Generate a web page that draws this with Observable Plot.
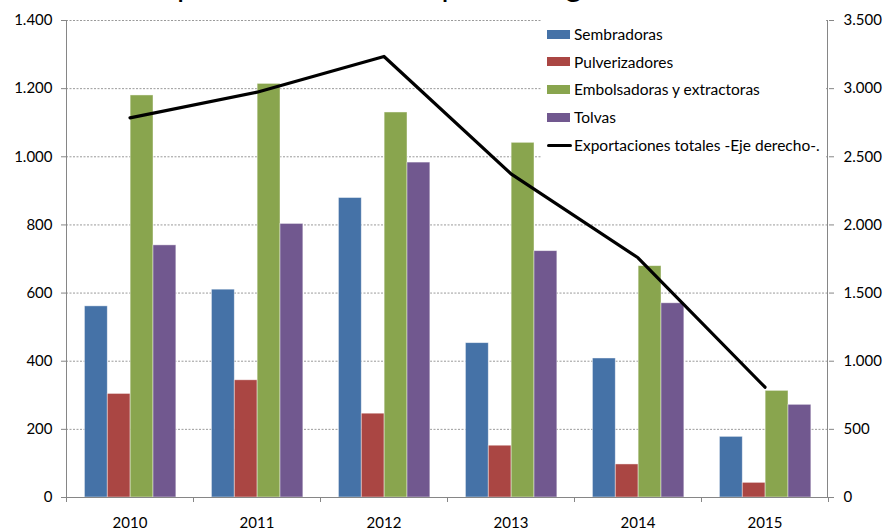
<!DOCTYPE html>
<html><head><meta charset="utf-8">
<script src="https://cdn.jsdelivr.net/npm/d3@7"></script>
<script src="https://cdn.jsdelivr.net/npm/@observablehq/plot@0.6"></script>
<style>
body{margin:0;background:#fff;}
#wrap{position:relative;width:885px;height:531px;overflow:hidden;font-family:Lato,sans-serif;}
#wrap svg{position:absolute;left:0;top:0;}
#legend{position:absolute;left:542px;top:20px;width:284px;height:139px;background:#fff;}
.item{position:absolute;left:5px;height:20px;display:flex;align-items:center;font-size:15.5px;color:#000;white-space:nowrap;}
.sw{width:23px;height:9px;margin-right:4px;}
.ln{width:25px;height:3px;background:#000;border-radius:2px;margin-right:2px;}
#title{position:absolute;left:0;top:0;pointer-events:none;}
</style></head><body><div id="wrap"></div>
<script>
const titleText = "Exportaciones de maquinaria agrícola";
const years = ["2010", "2011", "2012", "2013", "2014", "2015"];
const seriesNames = ["Sembradoras", "Pulverizadores", "Embolsadoras y extractoras", "Tolvas"];
const sembradoras = [561, 610, 879, 453, 408, 178];
const pulverizadores = [304, 344, 246, 152, 97, 43];
const embolsadoras = [1180, 1214, 1130, 1041, 679, 313];
const tolvas = [740, 803, 983, 723, 570, 272];
const lineName = "Exportaciones totales -Eje derecho-.";
const exportaciones = [2786, 2974, 3236, 2375, 1759, 809];
const leftTicks = [0, 200, 400, 600, 800, 1000, 1200, 1400];
const leftTickLabels = ["0", "200", "400", "600", "800", "1.000", "1.200", "1.400"];
const rightTickLabels = ["0", "500", "1.000", "1.500", "2.000", "2.500", "3.000", "3.500"];
const leftMax = 1400, rightMax = 3500;
const colors = ["#4572A7", "#AA4643", "#89A54E", "#71588F"];

const seriesValues = [sembradoras, pulverizadores, embolsadoras, tolvas];
const rows = [];
seriesNames.forEach((s, si) => years.forEach((y, i) => rows.push({year: y, series: s, value: seriesValues[si][i]})));
const lineRows = years.map((y, i) => ({year: y, value: exportaciones[i]}));

const W = 885, H = 531, mL = 66, mR = 57, mT = 20, mB = 34;
const bandW = (W - mL - mR) / years.length;
const barW = bandW * 0.18, groupStart = bandW * 0.145;

const plot = Plot.plot({
  width: W, height: H, marginLeft: mL, marginRight: mR, marginTop: mT, marginBottom: mB,
  style: {fontFamily: "Lato, sans-serif", fontSize: "15px", color: "#000", background: "transparent", overflow: "visible"},
  x: {type: "band", domain: years, padding: 0, label: null},
  y: {domain: [0, leftMax], label: null},
  marks: [
    Plot.ruleY(leftTicks.filter(d => d > 0), {stroke: "#9a9a9a", strokeDasharray: "2,1.5", strokeWidth: 1}),
    ...seriesNames.map((s, si) => Plot.barY(rows.filter(d => d.series === s), {
      x: "year", y: "value", fill: colors[si],
      stroke: "#fff", strokeOpacity: 0.55, strokeWidth: 0.8,
      insetLeft: groupStart + si * barW,
      insetRight: bandW - groupStart - (si + 1) * barW
    })),
    Plot.line(lineRows, {x: "year", y: d => d.value * leftMax / rightMax, stroke: "#000", strokeWidth: 3.2}),
    Plot.ruleY([0], {stroke: "#868686", strokeWidth: 1}),
    Plot.axisY({anchor: "left", label: null, ticks: leftTicks, tickFormat: d => leftTickLabels[leftTicks.indexOf(d)], tickSize: 5, tickPadding: 9, stroke: "#868686", fill: "#000", fontSize: 15}),
    Plot.axisY({anchor: "right", label: null, ticks: leftTicks, tickFormat: d => rightTickLabels[leftTicks.indexOf(d)], tickSize: 5, tickPadding: 10, stroke: "#868686", fill: "#000", fontSize: 15}),
    Plot.axisX({label: null, tickSize: 0, tickPadding: 20, fill: "#000", fontSize: 15})
  ]
});

const wrap = document.getElementById("wrap");
wrap.appendChild(plot);

// axis lines and category boundary ticks from Plot's scales
const xs = plot.scale("x"), ys = plot.scale("y");
const x0 = xs.range[0], x1 = xs.range[1];
const yb = ys.range[0], yt = ys.range[1];
const step = (x1 - x0) / years.length;
const g = d3.select(plot).append("g").attr("stroke", "#868686").attr("stroke-width", 1);
g.append("line").attr("x1", x0 + 0.5).attr("x2", x0 + 0.5).attr("y1", yt).attr("y2", yb);
g.append("line").attr("x1", x1 - 0.5).attr("x2", x1 - 0.5).attr("y1", yt).attr("y2", yb);
for (let k = 0; k <= years.length; k++) {
  const xx = Math.round(x0 + k * step) + 0.5;
  g.append("line").attr("x1", xx).attr("x2", xx).attr("y1", yb).attr("y2", yb + 5);
}

// legend
const legend = document.createElement("div");
legend.id = "legend";
const centers = [14, 41.7, 69.3, 97, 125];
seriesNames.concat([lineName]).forEach((name, i) => {
  const it = document.createElement("div");
  it.className = "item";
  it.style.top = (centers[i] - 10) + "px";
  const sw = document.createElement("span");
  if (i < seriesNames.length) { sw.className = "sw"; sw.style.background = colors[i]; }
  else { sw.className = "ln"; }
  it.appendChild(sw);
  const t = document.createElement("span");
  t.textContent = name;
  it.appendChild(t);
  legend.appendChild(it);
});
wrap.appendChild(legend);

// title (clipped at the top, as in the reference)
const tsvg = d3.create("svg").attr("id", "title").attr("width", W).attr("height", 20);
tsvg.append("text").attr("x", 143).attr("y", -3).attr("font-family", "Lato, sans-serif")
  .attr("font-size", 31.5).attr("fill", "#000").text(titleText);
wrap.appendChild(tsvg.node());
</script></body></html>
